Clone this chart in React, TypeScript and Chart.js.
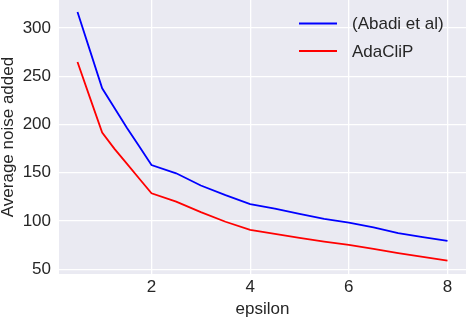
import React, { useEffect, useRef } from "react";
import { Chart, registerables } from "chart.js";

Chart.register(...registerables);

const epsilon = [0.5, 0.75, 1, 1.25, 1.5, 1.75, 2, 2.5, 3, 3.5, 4, 4.5, 5, 5.5, 6, 6.5, 7, 7.5, 8];
const abadiNoise = [316.5, 277, 237.4, 217, 196.5, 177.5, 158, 149.4, 136.8, 126.8, 117.5, 112.8, 107.3, 102.3, 98.3, 93.3, 87.4, 83.3, 79.3];
const adaclipNoise = [264.7, 228, 191.5, 174.7, 159.5, 144, 128.7, 120, 109.2, 99.2, 90.7, 86.7, 82.5, 78.6, 75.2, 71.1, 66.8, 62.9, 58.9];
const seriesLabels = ["(Abadi et al)", "AdaCliP"];
const seriesColors = ["#0000ff", "#ff0000"];
const xTicks = [2, 4, 6, 8];
const yTicks = [50, 100, 150, 200, 250, 300];
const xLabel = "epsilon";
const yLabel = "Average noise added";

const FONT = "'Liberation Sans', Arial, sans-serif";
const TEXT = "#262626";

const bgPlugin = {
  id: "bg",
  beforeDraw(chart: any) {
    const { ctx, chartArea } = chart;
    ctx.save();
    ctx.fillStyle = "#EAEAF2";
    ctx.fillRect(chartArea.left, chartArea.top, chartArea.right - chartArea.left, chartArea.bottom - chartArea.top);
    ctx.restore();
  },
};

const legendPlugin = {
  id: "lineLegend",
  afterDatasetsDraw(chart: any) {
    const { ctx, chartArea } = chart;
    const x0 = chartArea.right - 167;
    const lineLen = 38;
    ctx.save();
    chart.data.datasets.forEach((ds: any, i: number) => {
      const y = chartArea.top + 23.5 + i * 27.5;
      ctx.strokeStyle = ds.borderColor;
      ctx.lineWidth = 2;
      ctx.beginPath();
      ctx.moveTo(x0, y);
      ctx.lineTo(x0 + lineLen, y);
      ctx.stroke();
      ctx.fillStyle = TEXT;
      ctx.font = `17px ${FONT}`;
      ctx.textBaseline = "middle";
      ctx.textAlign = "left";
      ctx.fillText(ds.label, x0 + lineLen + 15, y + 1);
    });
    ctx.restore();
  },
};

const zeroPad = (s: any) => {
  s.paddingTop = 0;
  s.paddingBottom = 0;
  s.paddingLeft = 0;
  s.paddingRight = 0;
};

export default function App() {
  const ref = useRef<HTMLCanvasElement>(null);
  useEffect(() => {
    if (!ref.current) return;
    const chart = new Chart(ref.current, {
      type: "line",
      data: {
        datasets: [
          {
            label: seriesLabels[0],
            data: epsilon.map((x, i) => ({ x, y: abadiNoise[i] })),
            borderColor: seriesColors[0],
            backgroundColor: seriesColors[0],
            borderWidth: 1.8,
            pointRadius: 0,
            tension: 0,
          },
          {
            label: seriesLabels[1],
            data: epsilon.map((x, i) => ({ x, y: adaclipNoise[i] })),
            borderColor: seriesColors[1],
            backgroundColor: seriesColors[1],
            borderWidth: 1.8,
            pointRadius: 0,
            tension: 0,
          },
        ],
      },
      options: {
        animation: false,
        responsive: false,
        devicePixelRatio: 1,
        layout: { padding: 0 },
        plugins: { legend: { display: false }, tooltip: { enabled: false } },
        scales: {
          x: {
            type: "linear",
            min: 0.125,
            max: 8.375,
            afterBuildTicks: (s: any) => {
              s.ticks = xTicks.map((v) => ({ value: v }));
            },
            afterFit: (s: any) => {
              s.height = 44;
              zeroPad(s);
            },
            grid: { color: "#ffffff", lineWidth: 1.3, drawTicks: false },
            border: { display: false },
            ticks: { font: { family: FONT, size: 17 }, color: TEXT, padding: 3, maxRotation: 0 },
            title: {
              display: true,
              text: xLabel,
              font: { family: FONT, size: 17, lineHeight: 1 },
              color: TEXT,
              padding: { top: 0, bottom: 0.5 },
            },
          },
          y: {
            type: "linear",
            min: 45.1,
            max: 328.9,
            afterBuildTicks: (s: any) => {
              s.ticks = yTicks.map((v) => ({ value: v }));
            },
            afterFit: (s: any) => {
              s.width = 59;
              zeroPad(s);
            },
            grid: { color: "#ffffff", lineWidth: 1.3, drawTicks: false },
            border: { display: false },
            ticks: { font: { family: FONT, size: 17 }, color: TEXT, padding: 8 },
            title: {
              display: true,
              text: yLabel,
              font: { family: FONT, size: 17, lineHeight: 1 },
              color: TEXT,
              padding: { top: 0, bottom: 0 },
            },
          },
        },
      },
      plugins: [bgPlugin, legendPlugin],
    });
    return () => chart.destroy();
  }, []);
  return (
    <div style={{ position: "absolute", left: 0, top: 0, width: 466, height: 318 }}>
      <canvas ref={ref} width={466} height={318} style={{ width: 466, height: 318, display: "block" }} />
    </div>
  );
}
